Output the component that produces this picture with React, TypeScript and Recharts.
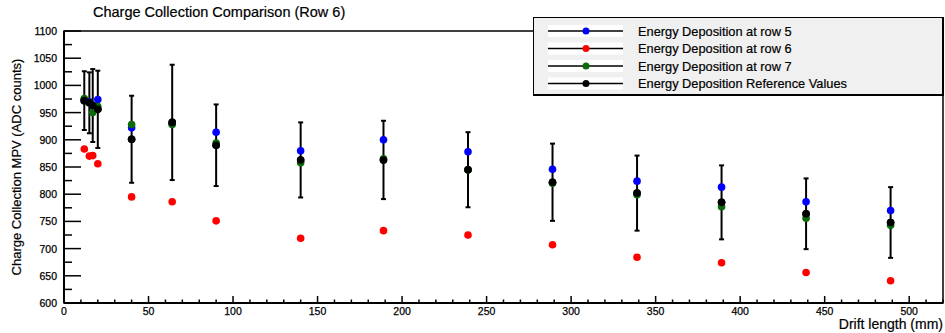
import React from "react";
import { ScatterChart, Scatter, XAxis, YAxis, ErrorBar, ReferenceArea } from "recharts";

// drift length (mm) of each measurement
const driftLength = [12, 15, 17, 20, 40, 64, 90, 140, 189, 239, 289, 339, 389, 439, 489];

// MPV values (ADC counts)
const row5 = [973, 970, 962, 974, 922, 930, 914, 880, 900, 878, 846, 824, 813, 786, 770];
const row6 = [883, 870, 871, 856, 795, 786, 751, 719, 733, 725, 707, 684, 674, 656, 641];
const row7 = [976, 968, 950, 961, 928, 928, 894, 858, 865, 845, 820, 799, 777, 756, 743];
const reference = [972, 968, 963, 956, 901, 932, 890, 863, 863, 845, 822, 802, 785, 764, 748];
const referenceErr = [54, 56, 67, 71, 80, 106, 75, 69, 72, 69, 71, 69, 68, 65, 65];

const xMajor = [0, 50, 100, 150, 200, 250, 300, 350, 400, 450, 500];
const yMajor = [600, 650, 700, 750, 800, 850, 900, 950, 1000, 1050, 1100];

const legendItems = [
  { label: "Energy Deposition at row 5", color: "#0000ff" },
  { label: "Energy Deposition at row 6", color: "#ff0000" },
  { label: "Energy Deposition at row 7", color: "#0b6b0b" },
  { label: "Energy Deposition Reference Values", color: "#000000" },
];

const font = "'Liberation Sans', Arial, Helvetica, sans-serif";

const xTicks: number[] = [];
for (let v = 0; v <= 520; v += 10) xTicks.push(v);
const yTicks: number[] = [];
for (let v = 600; v <= 1100; v += 25) yTicks.push(v);

const toPoints = (ys: number[], errs?: number[]) =>
  driftLength.map((x, i) => ({ x, y: ys[i], err: errs ? errs[i] : 0 }));

const dot = (color: string) => (p: any) => <circle cx={p.cx} cy={p.cy} r={3.8} fill={color} />;

const XTick = (p: any) => {
  const v = p.payload.value;
  const major = xMajor.includes(v);
  return (
    <g>
      <line x1={p.x} x2={p.x} y1={p.y} y2={p.y - (major ? 7 : 3.5)} stroke="#000" strokeWidth={1.5} />
      {major && (
        <text x={p.x} y={p.y + 12} textAnchor="middle" fontSize={10.5} fontFamily={font} fill="#000" stroke="#000" strokeWidth={0.25}>
          {v}
        </text>
      )}
    </g>
  );
};

const YTick = (p: any) => {
  const v = p.payload.value;
  const major = yMajor.includes(v);
  return (
    <g>
      <line x1={p.x} x2={p.x + (major ? 17 : 8)} y1={p.y} y2={p.y} stroke="#000" strokeWidth={1.5} />
      {major && (
        <text x={p.x - 7} y={p.y + 4} textAnchor="end" fontSize={10.5} fontFamily={font} fill="#000" stroke="#000" strokeWidth={0.25}>
          {v}
        </text>
      )}
    </g>
  );
};

const Legend = () => (
  <div
    style={{
      position: "absolute",
      left: 533,
      top: 17,
      width: 411,
      height: 79,
      boxSizing: "border-box",
      background: "#f0f0f0",
      border: "1px solid #000",
      borderRight: "2px solid #000",
      borderBottom: "2px solid #000",
    }}
  >
    <svg width={408} height={76} style={{ display: "block" }}>
      {legendItems.map((it, i) => {
        const cy = 13 + i * 17.5;
        return (
          <g key={it.label}>
            <rect x={14} y={cy - 6} width={75} height={12} fill="#fff" />
            <line x1={14} x2={89} y1={cy} y2={cy} stroke="#000" strokeWidth={1.5} />
            <circle cx={52} cy={cy} r={3.5} fill={it.color} />
            <text x={104} y={cy + 4.5} fontSize={12.8} fontFamily={font} fill="#000" stroke="#000" strokeWidth={0.2}>
              {it.label}
            </text>
          </g>
        );
      })}
    </svg>
  </div>
);

export default function App() {
  return (
    <div style={{ position: "absolute", left: 0, top: 0, width: 945, height: 333, background: "#fff", fontFamily: font }}>
      <ScatterChart width={945} height={333} margin={{ top: 31, right: 2, bottom: 0, left: 0 }}>
        <XAxis
          type="number"
          dataKey="x"
          domain={[0, 520]}
          ticks={xTicks}
          interval={0}
          allowDataOverflow
          height={30}
          tickSize={0}
          tickMargin={0}
          tickLine={false}
          tick={<XTick />}
          axisLine={{ stroke: "#000", strokeWidth: 2 }}
        />
        <YAxis
          type="number"
          dataKey="y"
          domain={[600, 1100]}
          ticks={yTicks}
          interval={0}
          allowDataOverflow
          width={64}
          tickSize={0}
          tickMargin={0}
          tickLine={false}
          tick={<YTick />}
          axisLine={{ stroke: "#000", strokeWidth: 2 }}
        />
        <ReferenceArea x1={0} x2={520} y1={600} y2={1100} fill="none" stroke="#000" strokeWidth={1.5} />
        <Scatter data={toPoints(reference, referenceErr)} shape={dot("#000")} isAnimationActive={false}>
          <ErrorBar dataKey="err" direction="y" width={2.5} strokeWidth={2} stroke="#000" />
        </Scatter>
        <Scatter data={toPoints(row5)} shape={dot("#0000ff")} isAnimationActive={false} />
        <Scatter data={toPoints(row6)} shape={dot("#ff0000")} isAnimationActive={false} />
        <Scatter data={toPoints(row7)} shape={dot("#0b6b0b")} isAnimationActive={false} />
        <Scatter data={toPoints(reference)} shape={dot("#000")} isAnimationActive={false} />
      </ScatterChart>
      <div style={{ position: "absolute", left: 93, top: 4, fontSize: 14.5, lineHeight: "16px", whiteSpace: "nowrap", color: "#000", WebkitTextStroke: "0.2px #000" }}>
        Charge Collection Comparison (Row 6)
      </div>
      <div
        style={{
          position: "absolute",
          left: 17,
          top: 167,
          transform: "translate(-50%, -50%) rotate(-90deg)",
          fontSize: 13,
          lineHeight: "14px",
          whiteSpace: "nowrap",
          color: "#000",
          WebkitTextStroke: "0.2px #000",
        }}
      >
        Charge Collection MPV (ADC counts)
      </div>
      <div style={{ position: "absolute", right: 2, top: 317, fontSize: 14, lineHeight: "15px", whiteSpace: "nowrap", color: "#000", WebkitTextStroke: "0.2px #000" }}>
        Drift length (mm)
      </div>
      <Legend />
    </div>
  );
}
